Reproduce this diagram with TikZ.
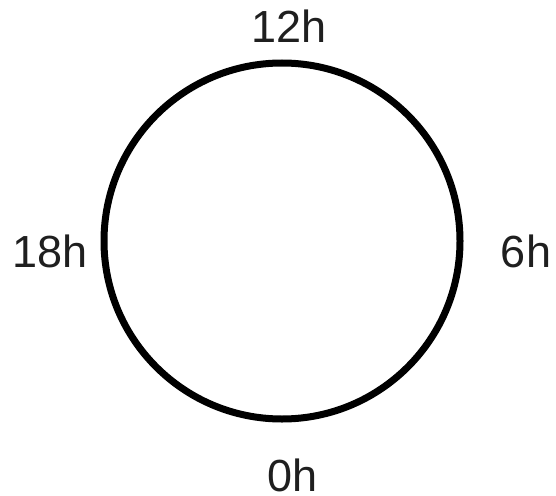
\documentclass[tikz,border=0pt]{standalone}
\usepackage{fontspec}
\setmainfont{Liberation Sans}
\begin{document}
\begin{tikzpicture}[x=1pt,y=-1pt,
  lbl/.style={inner sep=0pt,anchor=base,font=\fontsize{45}{54}\selectfont,text=black!88}]
\useasboundingbox (0,0) rectangle (556,495);
\node[circle,draw,line width=7pt,minimum size=356pt,inner sep=0pt] (clock) at (282,241) {};
\node[lbl] (n12) at (289,43) {12h};
\node[lbl] (n6) at (526,267) {6h};
\node[lbl] (n18) at (50.5,267) {18h};
\node[lbl] (n0) at (293,491) {0h};
\end{tikzpicture}
\end{document}
